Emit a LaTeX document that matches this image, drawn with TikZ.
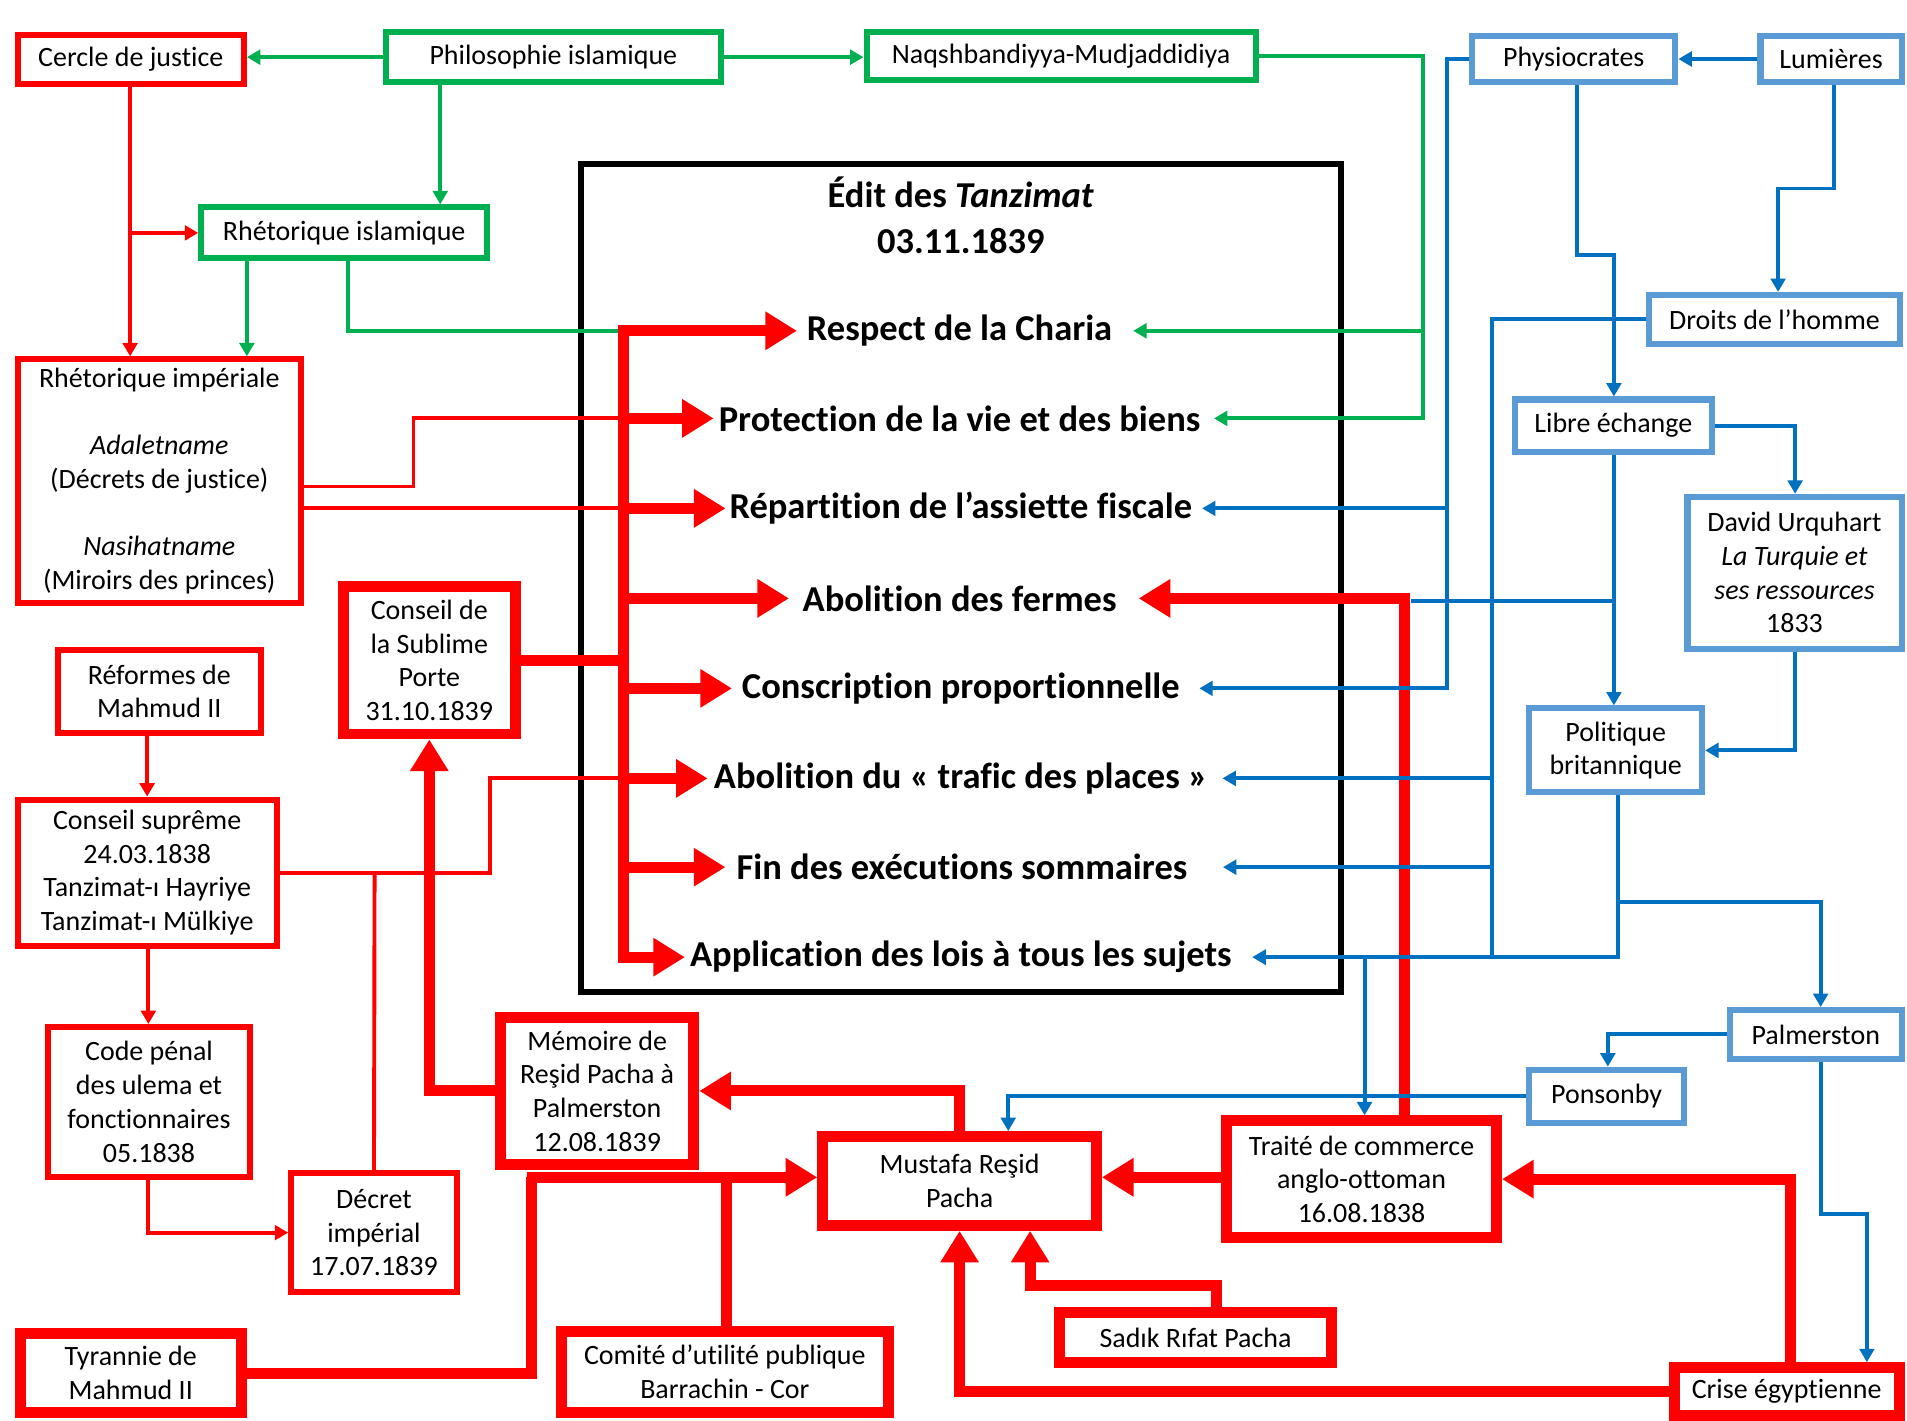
\documentclass[tikz,border=0pt]{standalone}
\usepackage{fontspec}
\setmainfont[Ligatures={NoCommon}]{Carlito}
\usetikzlibrary{arrows.meta}
\definecolor{grn}{HTML}{00B050}
\definecolor{bln}{HTML}{0070C0}
\definecolor{lbl}{HTML}{5B9BD5}
\definecolor{rd}{HTML}{FF0000}
\tikzset{
  every node/.style={font=\fontsize{23}{27.7}\selectfont, align=center, inner sep=0pt},
  rthin/.style={draw=rd, line width=5pt, fill=white},
  rthick/.style={draw=rd, line width=9pt, fill=white},
  gbox/.style={draw=grn, line width=5pt, fill=white},
  bbox/.style={draw=lbl, line width=5pt, fill=white},
  item/.style={font=\fontsize{30}{36}\selectfont\bfseries},
  rline/.style={draw=rd, line width=3.2pt},
  rarr/.style={rline, -{Triangle[length=11pt,width=12pt]}},
  thk/.style={draw=rd, line width=9pt},
  tarr/.style={thk, -{Triangle[length=26pt,width=30pt]}},
  gline/.style={draw=grn, line width=3.2pt},
  garr/.style={gline, -{Triangle[length=11pt,width=12pt]}},
  bline/.style={draw=bln, line width=3.2pt},
  barr/.style={bline, -{Triangle[length=11pt,width=12pt]}},
}
\begin{document}
\begin{tikzpicture}[x=1pt,y=-1pt]
\fill[white] (0,0) rectangle (1568,1168);
\useasboundingbox (0,0) rectangle (1568,1168);

% central box
\node[draw=black, line width=5pt, minimum width=625pt, minimum height=681pt] (edit) at (790,475) {};
\node[font=\fontsize{30}{38}\selectfont\bfseries] (title) at (790,177) {Édit des \textit{Tanzimat}\\03.11.1839};
\node[item] (respect) at (789,272) {Respect de la Charia};
\node[item] (protection) at (789,344) {Protection de la vie et des biens};
\node[item] (repartition) at (790,418) {Répartition de l’assiette fiscale};
\node[item] (fermes) at (789,492) {Abolition des fermes};
\node[item] (conscription) at (790,566) {Conscription proportionnelle};
\node[item] (trafic) at (790,640) {Abolition du «~trafic des places~»};
\node[item] (fin) at (791,713) {Fin des exécutions sommaires};
\node[item] (application) at (790,787) {Application des lois à tous les sujets};

% red nodes
\node[rthin, minimum width=186pt, minimum height=40pt] (cercle) at (107.5,49) {Cercle de justice};
\node[rthin, minimum width=233pt, minimum height=200pt] (rhimp) at (131,395.5) {Rhétorique impériale\\[27.7pt]\textit{Adaletname}\\(Décrets de justice)\\[27.7pt]\textit{Nasihatname}\\(Miroirs des princes)};
\node[rthin, minimum width=167pt, minimum height=68pt] (reformes) at (131,568.5) {Réformes de\\Mahmud II};
\node[rthin, minimum width=213pt, minimum height=120pt] (csupreme) at (121,717.5) {Conseil suprême\\24.03.1838\\Tanzimat-ı Hayriye\\Tanzimat-ı Mülkiye};
\node[rthin, minimum width=166pt, minimum height=123pt] (codepenal) at (122.5,906) {Code pénal\\des ulema et\\fonctionnaires\\05.1838};
\node[rthin, minimum width=136pt, minimum height=98pt] (decret) at (307.5,1013.5) {Décret\\impérial\\17.07.1839};
\node[rthick, minimum width=141pt, minimum height=121pt] (sublime) at (353,543) {Conseil de\\la Sublime\\Porte\\31.10.1839};
\node[rthick, minimum width=159pt, minimum height=121pt] (memoire) at (491,897) {Mémoire de\\Reşid Pacha à\\Palmerston\\12.08.1839};
\node[rthick, minimum width=225pt, minimum height=73pt] (mustafa) at (789,971) {Mustafa Reşid\\Pacha};
\node[rthick, minimum width=222pt, minimum height=96pt] (traite) at (1119.5,969.5) {Traité de commerce\\anglo-ottoman\\16.08.1838};
\node[rthick, minimum width=223pt, minimum height=41pt] (sadik) at (983,1100) {Sadık Rıfat Pacha};
\node[rthick, minimum width=182pt, minimum height=65pt] (tyrannie) at (107.5,1129) {Tyrannie de\\Mahmud II};
\node[rthick, minimum width=269pt, minimum height=67pt] (comite) at (596,1128) {Comité d’utilité publique\\Barrachin - Cor};
\node[rthick, minimum width=185pt, minimum height=39pt] (crise) at (1469,1144) {Crise égyptienne};

% green nodes
\node[gbox, minimum width=275pt, minimum height=41pt] (philo) at (455,47) {Philosophie islamique};
\node[gbox, minimum width=320pt, minimum height=39pt] (naqsh) at (872.5,46) {Naqshbandiyya-Mudjaddidiya};
\node[gbox, minimum width=235pt, minimum height=42pt] (rhisl) at (283,191.5) {Rhétorique islamique};

% blue nodes
\node[bbox, minimum width=167pt, minimum height=38pt] (physio) at (1294,48.5) {Physiocrates};
\node[bbox, minimum width=116pt, minimum height=38pt] (lumieres) at (1505.5,48.5) {Lumières};
\node[bbox, minimum width=207pt, minimum height=40pt] (droits) at (1459,262.5) {Droits de l’homme};
\node[bbox, minimum width=162pt, minimum height=43pt] (libre) at (1326.5,350) {Libre échange};
\node[bbox, minimum width=176pt, minimum height=125pt] (urquhart) at (1475.5,471) {David Urquhart\\\textit{La Turquie  et}\\\textit{ses ressources}\\1833};
\node[bbox, minimum width=142pt, minimum height=69pt] (politique) at (1328.5,617) {Politique\\britannique};
\node[bbox, minimum width=141pt, minimum height=40pt] (palmerston) at (1493,850.5) {Palmerston};
\node[bbox, minimum width=127pt, minimum height=44pt] (ponsonby) at (1321,901.5) {Ponsonby};

\coordinate (trunktop) at (513,272);
\coordinate (trunkbot) at (513,787);

% green connectors
\draw[garr] (philo.west) -- (cercle.east |- philo.west);
\draw[garr] (philo.east) -- (naqsh.west |- philo.east);
\draw[garr] (philo.south -| 362,0) -- (rhisl.north -| 362,0);
\draw[garr] (rhisl.south -| 203,0) -- (rhimp.north -| 203,0);
\draw[gline] (rhisl.south -| 286,0) |- (trunktop);
\draw[garr] (naqsh.east) -- (1170,46) -- (1170,344) -- ([xshift=11pt]protection.east);
\draw[garr] (1170,272) -- ([xshift=17pt]respect.east);

% red thin connectors
\draw[rarr] (cercle.south -| 107,0) -- (rhimp.north -| 107,0);
\draw[rarr] (107,191.5) -- (rhisl.west);
\draw[rline] (rhimp.east |- 0,400) -- (340,400) -- (340,344) -- (trunktop |- protection);
\draw[rline] (rhimp.east |- 0,418) -- (trunktop |- repartition);
\draw[rarr] (reformes.south -| 121,0) -- (csupreme.north -| 121,0);
\draw[rarr] (csupreme.south -| 122,0) -- (codepenal.north -| 122,0);
\draw[rarr] (codepenal.south -| 122,0) |- (decret.west);
\draw[rline] (csupreme.east) -- (403,717.5) -- (403,640) -- (trunktop |- trafic);
\draw[rline] (308,717.5) -- (decret.north);

% red thick connectors
\draw[thk, {Triangle[length=26pt,width=30pt]}-{Triangle[length=26pt,width=30pt]}] ([xshift=-4pt]application.west) -- (trunkbot) -- (trunktop) -- ([xshift=-8pt]respect.west);
\draw[tarr] (trunktop |- protection) -- ([xshift=-4pt]protection.west);
\draw[tarr] (trunktop |- repartition) -- ([xshift=-3pt]repartition.west);
\draw[tarr] (trunktop |- fermes) -- ([xshift=-11pt]fermes.west);
\draw[tarr] (trunktop |- conscription) -- ([xshift=-8pt]conscription.west);
\draw[tarr] (trunktop |- trafic) -- ([xshift=-5pt]trafic.west);
\draw[tarr] (trunktop |- fin) -- ([xshift=-9pt]fin.west);
\draw[thk] (sublime.east) -- (sublime.east -| trunktop);
\draw[tarr] (memoire.west) -| (sublime.south);
\draw[tarr] (mustafa.north -| 789,0) |- (memoire.east);
\draw[thk] (tyrannie.east) -| (437,968);
\draw[thk] (comite.north -| 597,0) -- (597,968);
\draw[tarr] (433,968) -- (mustafa.west |- 0,968);
\draw[tarr] (traite.west |- 0,968) -- (mustafa.east |- 0,968);
\draw[tarr] (crise.north -| 1472,0) |- (traite.east);
\draw[tarr] (crise.west) -| (mustafa.south -| 789,0);
\draw[tarr] (sadik.north -| 1000,0) -- (1000,1057) -| (mustafa.south -| 847,0);
\draw[tarr] (traite.north -| 1155,0) |- ([xshift=18pt]fermes.east);

% blue connectors
\draw[barr] (lumieres.west) -- (physio.east);
\draw[barr] (lumieres.south -| 1508,0) -- (1508,155) -| (droits.north -| 1462,0);
\draw[barr] (physio.south -| 1297,0) -- (1297,210) -| (libre.north -| 1327,0);
\draw[barr] (physio.west) -- (1190,48.5) -- (1190,566) -- ([xshift=16pt]conscription.east);
\draw[barr] (1190,418) -- ([xshift=8pt]repartition.east);
\draw[barr] (droits.west) -- (1227,262.5) -- (1227,787) -- ([xshift=17pt]application.east);
\draw[barr] (1227,640) -- ([xshift=12pt]trafic.east);
\draw[barr] (1227,713) -- ([xshift=29pt]fin.east);
\draw[barr] (libre.south -| 1327,0) -- (politique.north -| 1327,0);
\draw[bline] (1327,494) -- (1160,494);
\draw[barr] (libre.east) -| (urquhart.north -| 1476,0);
\draw[barr] (urquhart.south -| 1476,0) |- (politique.east);
\draw[barr] (politique.south -| 1330,0) -- (1330,787) -- ([xshift=17pt]application.east);
\draw[barr] (1330,742) -| (palmerston.north -| 1497,0);
\draw[barr] (1122,787) -- (traite.north -| 1122,0);
\draw[barr] (palmerston.west) -| (ponsonby.north -| 1322,0);
\draw[barr] (palmerston.south -| 1497,0) -- (1497,998) -| (crise.north -| 1535,0);
\draw[barr] (ponsonby.west) -| (mustafa.north -| 829,0);
\end{tikzpicture}
\end{document}
